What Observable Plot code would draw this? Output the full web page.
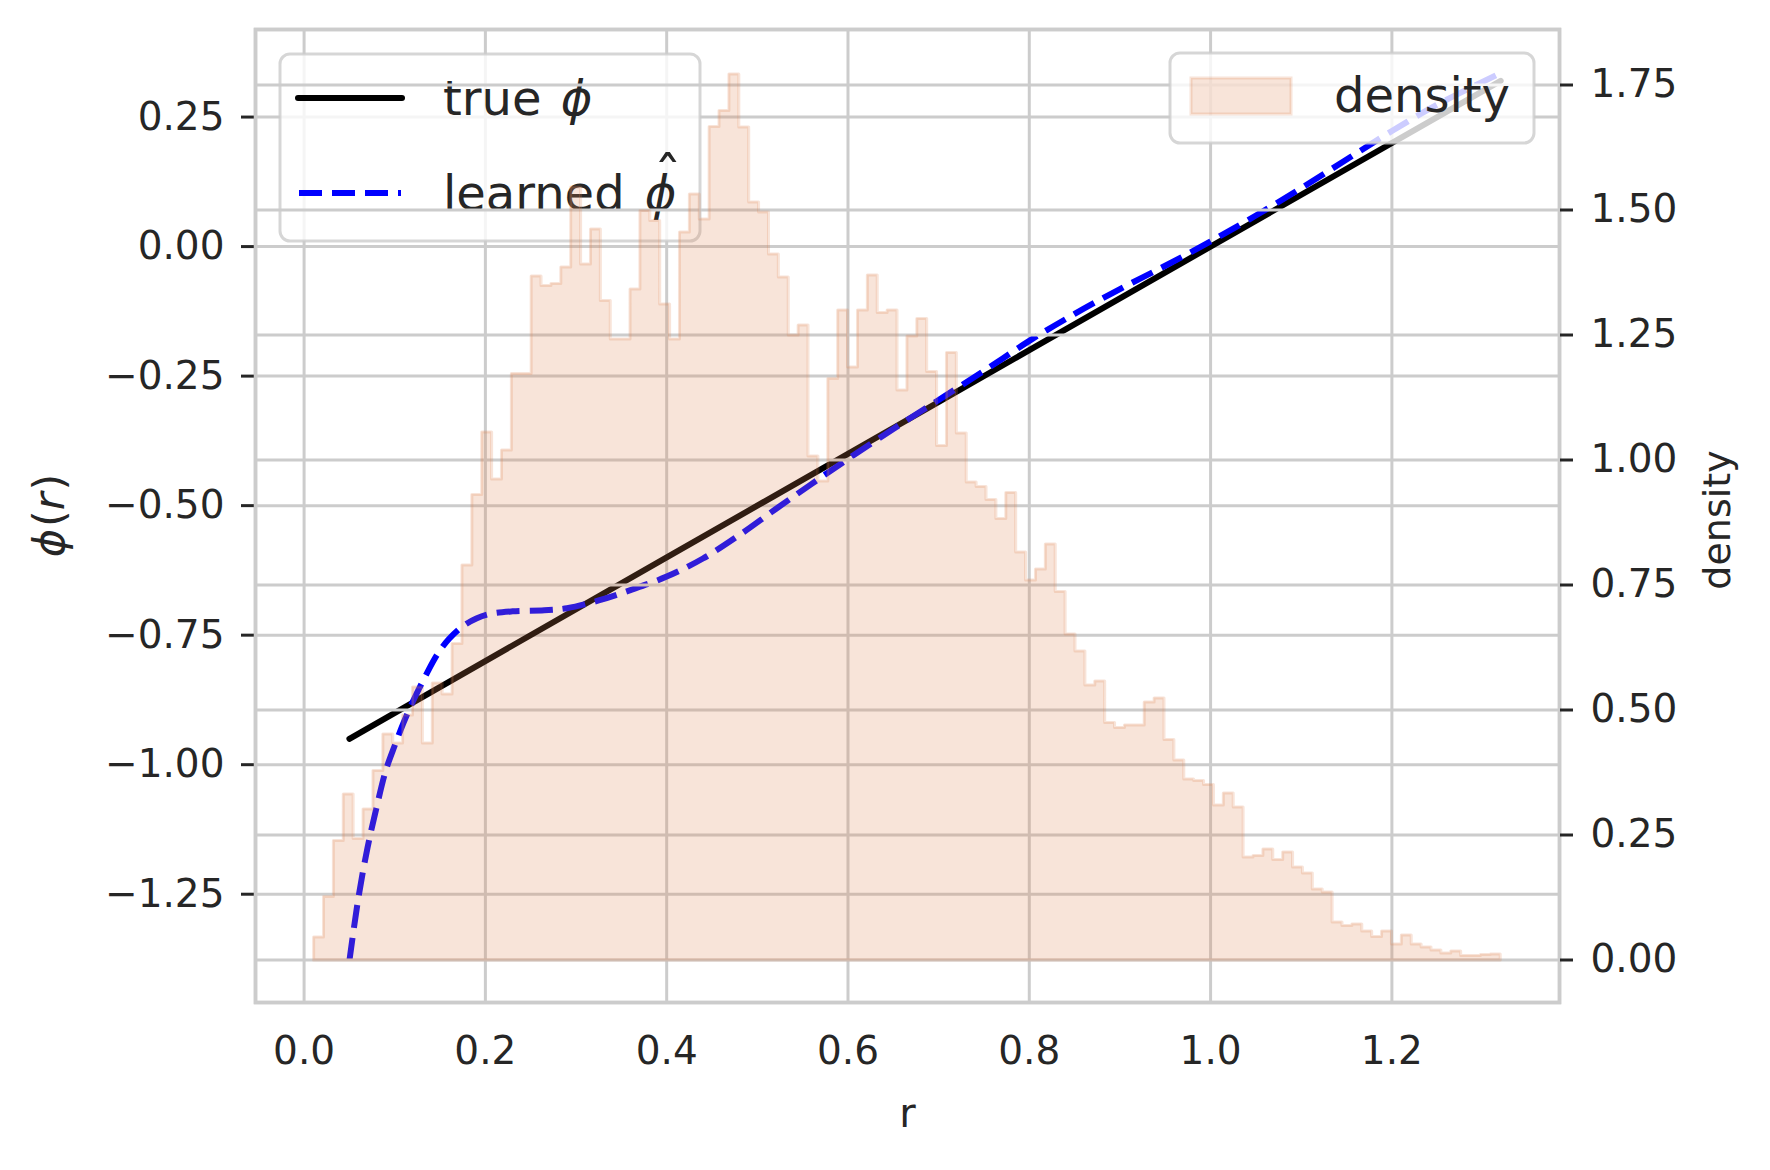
<!DOCTYPE html>
<html>
<head>
<meta charset="utf-8">
<script src="https://cdn.jsdelivr.net/npm/d3@7"></script>
<script src="https://cdn.jsdelivr.net/npm/@observablehq/plot@0.6"></script>
<style>
  body { margin: 0; background: #ffffff; }
  #chart { position: relative; width: 1770px; height: 1170px; background: #ffffff; }
  #chart svg { position: absolute; left: 0; top: 0; }
</style>
</head>
<body>
<div id="chart"></div>
<script>
// ---------------- data ----------------
const rTicks = [0, 0.2, 0.4, 0.6, 0.8, 1.0, 1.2];
const phiTicks = [-1.25, -1.0, -0.75, -0.5, -0.25, 0, 0.25];
const densityTicks = [0, 0.25, 0.5, 0.75, 1.0, 1.25, 1.5, 1.75];

// true phi
const trueR   = [0.05, 0.40, 0.80, 1.32];
const truePhi = [-0.95, -0.60, -0.20, 0.32];

// learned phi-hat
const learnedR = [0.05, 0.06, 0.07, 0.08, 0.09, 0.10, 0.11, 0.12, 0.135, 0.147, 0.16, 0.175,
  0.19, 0.205, 0.23, 0.265, 0.29, 0.325, 0.36, 0.40, 0.44, 0.48, 0.52, 0.56, 0.60, 0.65,
  0.70, 0.75, 0.80, 0.85, 0.90, 0.95, 1.00, 1.05, 1.10, 1.15, 1.20, 1.25, 1.32];
const learnedPhi = [-1.378, -1.256, -1.160, -1.082, -1.012, -0.963, -0.918, -0.878, -0.825, -0.787, -0.757, -0.733,
  -0.718, -0.709, -0.704, -0.702, -0.698, -0.683, -0.663, -0.637, -0.602, -0.557, -0.507, -0.458, -0.410, -0.352,
  -0.296, -0.240, -0.182, -0.130, -0.082, -0.037, 0.010, 0.060, 0.113, 0.168, 0.223, 0.274, 0.335];

// histogram of r (density), 120 equal bins between histStart and histEnd
const histStart = 0.0105;
const histEnd = 1.3195;
const density = [
  0.046, 0.127, 0.239, 0.332, 0.243, 0.302, 0.379, 0.452, 0.434, 0.490,
  0.546, 0.434, 0.554, 0.532, 0.633, 0.790, 0.931, 1.056, 0.962, 1.020,
  1.173, 1.173, 1.368, 1.349, 1.353, 1.386, 1.546, 1.392, 1.462, 1.319,
  1.242, 1.242, 1.342, 1.499, 1.479, 1.312, 1.242, 1.456, 1.532, 1.482,
  1.667, 1.699, 1.772, 1.666, 1.516, 1.496, 1.412, 1.366, 1.250, 1.270,
  1.008, 0.958, 1.163, 1.300, 1.186, 1.300, 1.370, 1.295, 1.300, 1.140,
  1.248, 1.283, 1.177, 1.029, 1.215, 1.054, 0.956, 0.947, 0.921, 0.883,
  0.935, 0.816, 0.760, 0.782, 0.832, 0.737, 0.652, 0.618, 0.550, 0.558,
  0.475, 0.465, 0.470, 0.470, 0.516, 0.524, 0.441, 0.400, 0.362, 0.359,
  0.351, 0.310, 0.334, 0.306, 0.206, 0.209, 0.222, 0.201, 0.216, 0.186,
  0.174, 0.142, 0.136, 0.076, 0.069, 0.072, 0.058, 0.047, 0.058, 0.032,
  0.050, 0.032, 0.026, 0.020, 0.014, 0.018, 0.009, 0.009, 0.011, 0.012
];

// ---------------- build tables ----------------
const nb = density.length;
const binW = (histEnd - histStart) / nb;
const histPts = density.map((d, i) => ({r: histStart + i * binW, d}));
histPts.push({r: histEnd, d: density[nb - 1]});
const outline = [{r: histStart, d: 0}, ...histPts, {r: histEnd, d: 0}, {r: histStart, d: 0}];
const trueData = trueR.map((r, i) => ({r, phi: truePhi[i]}));
const learnedData = learnedR.map((r, i) => ({r, phi: learnedPhi[i]}));

// ---------------- layout / style ----------------
const W = 1770, H = 1170;
const M = {marginLeft: 255, marginRight: 211, marginTop: 29, marginBottom: 168};
const xDomain = [-0.0536, 1.3849];
const phiDomain = [-1.459, 0.419];
const densityDomain = [-0.085, 1.861];
const FONT = "DejaVu Sans";
const INK = "#262626";
const GRID = "#cccccc";
const HIST = "#dd8452";
const HA = 0.22;

const base = (bg) => ({
  width: W, height: H, ...M,
  style: {background: bg, fontFamily: FONT, fontSize: "39px", color: INK, overflow: "visible"}
});

// left axes: phi
const p1 = Plot.plot({
  ...base("#ffffff"),
  x: {domain: xDomain},
  y: {domain: phiDomain},
  marks: [
    Plot.gridX(rTicks, {stroke: GRID, strokeOpacity: 1, strokeWidth: 3}),
    Plot.gridY(phiTicks, {stroke: GRID, strokeOpacity: 1, strokeWidth: 3}),
    Plot.line(trueData, {x: "r", y: "phi", stroke: "#000000", strokeWidth: 6, strokeLinecap: "round"}),
    Plot.line(learnedData, {x: "r", y: "phi", stroke: "#0000ff", strokeWidth: 6,
      strokeDasharray: "23,10", strokeLinecap: "butt", curve: "catmull-rom"}),
    Plot.frame({stroke: GRID, strokeWidth: 3.5}),
    Plot.axisX(rTicks, {anchor: "bottom", tickSize: 0, tickPadding: 34, tickFormat: d3.format(".1f"), label: null}),
    Plot.axisY(phiTicks, {anchor: "left", tickSize: 14, tickPadding: 17, strokeWidth: 3,
      tickFormat: d3.format(".2f"), label: null}),
    Plot.text(["r"], {frameAnchor: "bottom", textAnchor: "middle", lineAnchor: "bottom", dy: 124, fontSize: 40, fill: INK})
  ]
});

// right axes: density
const p2 = Plot.plot({
  ...base("transparent"),
  x: {domain: xDomain, axis: null},
  y: {domain: densityDomain},
  marks: [
    Plot.gridY(densityTicks, {stroke: GRID, strokeOpacity: 1, strokeWidth: 3}),
    Plot.areaY(histPts, {x: "r", y: "d", curve: "step-after", fill: HIST, fillOpacity: HA}),
    Plot.line(outline, {x: "r", y: "d", curve: "step-after", stroke: HIST, strokeOpacity: HA, strokeWidth: 3}),
    Plot.frame({stroke: GRID, strokeWidth: 3.5}),
    Plot.axisY(densityTicks, {anchor: "right", tickSize: 13, tickPadding: 18, strokeWidth: 3,
      tickFormat: d3.format(".2f"), label: null}),
    Plot.text(["density"], {frameAnchor: "right", textAnchor: "middle", lineAnchor: "middle",
      rotate: -90, dx: 158, dy: 4, fontSize: 38, fill: INK})
  ]
});

const chart = document.getElementById("chart");
chart.appendChild(p1);
chart.appendChild(p2);

// y label phi(r) on the left (mathtext style)
const s1 = d3.select(p1);
const yl = s1.append("text")
  .attr("transform", "translate(64,515.5) rotate(-90)")
  .attr("text-anchor", "middle")
  .attr("font-family", FONT).attr("font-size", 43).attr("fill", INK);
yl.append("tspan").attr("font-style", "italic").text("\u03D5");
yl.append("tspan").attr("dx", 2).text("(");
yl.append("tspan").attr("font-style", "italic").text("r");
yl.append("tspan").attr("dx", 2).text(")");

// legend for the lines (belongs to the lower axes)
const lg1 = s1.append("g").attr("font-family", FONT).attr("font-size", 48).attr("fill", INK)
  .attr("text-anchor", "start");
lg1.append("rect").attr("x", 280).attr("y", 54).attr("width", 420).attr("height", 187).attr("rx", 10)
  .attr("fill", "#ffffff").attr("fill-opacity", 0.8)
  .attr("stroke", GRID).attr("stroke-opacity", 0.8).attr("stroke-width", 3);
lg1.append("line").attr("x1", 298).attr("x2", 402).attr("y1", 98).attr("y2", 98)
  .attr("stroke", "#000000").attr("stroke-width", 6).attr("stroke-linecap", "round");
lg1.append("line").attr("x1", 299).attr("x2", 401).attr("y1", 193).attr("y2", 193)
  .attr("stroke", "#0000ff").attr("stroke-width", 6).attr("stroke-dasharray", "23,10");
const t1 = lg1.append("text").attr("x", 443).attr("y", 115).attr("text-anchor", "start");
t1.append("tspan").text("true ");
t1.append("tspan").attr("dx", 4).attr("font-style", "italic").text("\u03D5");
const t2 = lg1.append("text").attr("x", 443).attr("y", 210).attr("text-anchor", "start");
t2.append("tspan").text("learned ");
t2.append("tspan").attr("dx", 5).attr("font-style", "italic").text("\u03D5");
// hat over the phi, kept inside the same text element
const hat = t2.append("tspan").attr("dy", -14).attr("font-size", 56).text("\u02C6");
try {
  const n = t2.node();
  const k = n.getNumberOfChars();
  const phiC = (n.getStartPositionOfChar(k - 2).x + n.getEndPositionOfChar(k - 2).x) / 2;
  const hatC = (n.getStartPositionOfChar(k - 1).x + n.getEndPositionOfChar(k - 1).x) / 2;
  hat.attr("dx", (phiC + 7) - hatC);
} catch (e) {
  hat.attr("dx", -25);
}

// legend for the histogram (upper axes)
const s2 = d3.select(p2);
const lg2 = s2.append("g").attr("font-family", FONT).attr("font-size", 48).attr("fill", INK)
  .attr("text-anchor", "start");
lg2.append("rect").attr("x", 1170).attr("y", 53).attr("width", 364).attr("height", 90).attr("rx", 10)
  .attr("fill", "#ffffff").attr("fill-opacity", 0.8)
  .attr("stroke", GRID).attr("stroke-opacity", 0.8).attr("stroke-width", 3);
lg2.append("rect").attr("x", 1191).attr("y", 78).attr("width", 100).attr("height", 36)
  .attr("fill", HIST).attr("fill-opacity", HA)
  .attr("stroke", HIST).attr("stroke-opacity", HA).attr("stroke-width", 3);
lg2.append("text").attr("x", 1334).attr("y", 112).attr("text-anchor", "start").text("density");
</script>
</body>
</html>
